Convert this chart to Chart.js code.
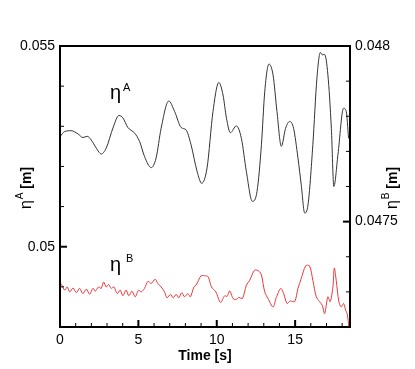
<!DOCTYPE html>
<html>
<head>
<meta charset="utf-8">
<script src="https://cdn.jsdelivr.net/npm/chart.js@4.4.1/dist/chart.umd.min.js"></script>
<style>
  html, body { margin: 0; padding: 0; background: #fff; }
  #wrap { width: 415px; height: 369px; }
</style>
</head>
<body>
<div id="wrap"><canvas id="chart" width="415" height="369"></canvas></div>
<script>
// eta A (left axis), black line
const timeA = [0, 0.30, 0.70, 1.15, 1.46, 1.74, 1.99, 2.31, 2.63, 2.95, 3.38, 3.76, 4.01, 4.33, 4.76,
  5.08, 5.39, 5.82, 6.13, 6.45, 6.94, 7.31, 7.73, 8.04, 8.36, 8.75, 9.04, 9.38, 9.76, 10.13,
  10.40, 10.62, 10.87, 11.25, 11.57, 11.89, 12.27, 12.57, 12.85, 13.06, 13.33, 13.59, 13.84, 14.12, 14.39,
  14.65, 14.90, 15.18, 15.39, 15.61, 15.82, 16.13, 16.39, 16.61, 16.73, 16.88, 17.09, 17.31, 17.47, 17.73,
  18.09, 18.26, 18.41];
const etaA = [0.05274, 0.05287, 0.05289, 0.05281, 0.05272, 0.05275, 0.05266, 0.05246, 0.05231, 0.05246,
  0.05296, 0.05327, 0.05321, 0.05297, 0.05283, 0.05262, 0.05225, 0.05197, 0.05221, 0.05295,
  0.05363, 0.05337, 0.05297, 0.05291, 0.05254, 0.05187, 0.05158, 0.05196, 0.05337, 0.05409,
  0.05378, 0.05320, 0.05284, 0.05301, 0.05270, 0.05187, 0.05113, 0.05138, 0.05254, 0.05386,
  0.05455, 0.05428, 0.05337, 0.05250, 0.05295, 0.05312, 0.05295, 0.05221, 0.05154, 0.05084,
  0.05104, 0.05254, 0.05420, 0.05484, 0.05478, 0.05479, 0.05428, 0.05295, 0.05150, 0.05229,
  0.05345, 0.05337, 0.05270];

// eta B (right axis), red line
const timeB = [0, 0.08, 0.30, 0.46, 0.62, 0.83, 1.04, 1.25, 1.46, 1.68, 1.89, 2.10, 2.25, 2.46, 2.63,
  2.78, 2.95, 3.10, 3.27, 3.44, 3.65, 3.84, 4.01, 4.22, 4.39, 4.59, 4.80, 5.01, 5.18, 5.39,
  5.61, 5.82, 6.07, 6.24, 6.45, 6.67, 6.83, 7.05, 7.22, 7.41, 7.58, 7.77, 7.94, 8.15, 8.32,
  8.54, 8.68, 9.00, 9.22, 9.45, 9.66, 9.94, 10.24, 10.51, 10.66, 10.83, 11.04, 11.21, 11.42, 11.64,
  11.89, 12.10, 12.42, 12.69, 12.85, 13.06, 13.27, 13.59, 13.80, 14.08, 14.27, 14.48, 14.69, 14.97, 15.18,
  15.39, 15.67, 15.92, 16.13, 16.35, 16.56, 16.73, 16.88, 17.09, 17.24, 17.41, 17.50, 17.62, 17.79, 17.94,
  18.09, 18.22, 18.32, 18.43];
const etaB = [0.047317, 0.047322, 0.047305, 0.047314, 0.047300, 0.047311, 0.047298, 0.047310, 0.047295, 0.047308,
  0.047293, 0.047310, 0.047302, 0.047314, 0.047310, 0.047328, 0.047314, 0.047321, 0.047310, 0.047314,
  0.047295, 0.047305, 0.047289, 0.047305, 0.047289, 0.047302, 0.047286, 0.047305, 0.047300, 0.047310,
  0.047330, 0.047324, 0.047336, 0.047324, 0.047314, 0.047300, 0.047283, 0.047293, 0.047283, 0.047293,
  0.047283, 0.047298, 0.047286, 0.047295, 0.047286, 0.047314, 0.047319, 0.047346, 0.047346, 0.047343,
  0.047314, 0.047300, 0.047270, 0.047289, 0.047287, 0.047303, 0.047281, 0.047278, 0.047284, 0.047281,
  0.047319, 0.047333, 0.047362, 0.047359, 0.047348, 0.047300, 0.047281, 0.047257, 0.047284, 0.047310,
  0.047295, 0.047267, 0.047274, 0.047272, 0.047310, 0.047338, 0.047374, 0.047374, 0.047333, 0.047286,
  0.047272, 0.047262, 0.047238, 0.047286, 0.047272, 0.047314, 0.047368, 0.047333, 0.047272, 0.047257,
  0.047267, 0.047248, 0.047238, 0.047200];

const FONT = "'Liberation Sans', Arial, Helvetica, sans-serif";

function isMult(v, step) {
  const r = v / step;
  return Math.abs(r - Math.round(r)) < 1e-6;
}

// draws text pieces one after another (for the superscripts)
function drawParts(ctx, parts, x, y, rot) {
  ctx.save();
  ctx.translate(x, y);
  if (rot) ctx.rotate(rot);
  let total = 0;
  parts.forEach(p => { ctx.font = p.font; total += ctx.measureText(p.text).width + (p.gap || 0); });
  let cx = -total / 2;
  ctx.textBaseline = "alphabetic";
  ctx.textAlign = "left";
  parts.forEach(p => {
    ctx.font = p.font;
    cx += (p.gap || 0);
    ctx.fillText(p.text, cx, p.dy || 0);
    cx += ctx.measureText(p.text).width;
  });
  ctx.restore();
}

const framePlugin = {
  id: "frame",
  afterDraw(chart) {
    const { ctx, chartArea: a, scales } = chart;
    ctx.save();
    ctx.strokeStyle = "#000";
    const line = (x1, y1, x2, y2) => { ctx.beginPath(); ctx.moveTo(x1, y1); ctx.lineTo(x2, y2); ctx.stroke(); };

    scales.x.ticks.forEach(t => {
      const px = scales.x.getPixelForValue(t.value);
      const major = isMult(t.value, 5);
      ctx.lineWidth = major ? 2 : 1;
      line(px, a.bottom, px, a.bottom - (major ? 7 : 4));
    });
    scales.y.ticks.forEach(t => {
      const py = scales.y.getPixelForValue(t.value);
      const major = isMult(t.value, 0.005);
      ctx.lineWidth = major ? 2 : 1;
      line(a.left, py, a.left + (major ? 7 : 4), py);
    });
    scales.y2.ticks.forEach(t => {
      const py = scales.y2.getPixelForValue(t.value);
      const major = isMult(t.value, 0.0005);
      ctx.lineWidth = major ? 2 : 1;
      line(a.right, py, a.right - (major ? 7 : 4), py);
    });

    ctx.lineWidth = 2;
    ctx.strokeRect(a.left, a.top, a.right - a.left, a.bottom - a.top);

    ctx.fillStyle = "#000";
    const midY = 188;
    drawParts(ctx, [
      { text: "\u03B7", font: "16px " + FONT },
      { text: "A", font: "10px " + FONT, dy: -8, gap: 1 },
      { text: " [m]", font: "bold 14px " + FONT }
    ], 31, midY, -Math.PI / 2);
    drawParts(ctx, [
      { text: "\u03B7", font: "16px " + FONT },
      { text: "B", font: "10px " + FONT, dy: -8, gap: 1 },
      { text: " [m]", font: "bold 14px " + FONT }
    ], 397, midY, -Math.PI / 2);
    drawParts(ctx, [{ text: "Time [s]", font: "bold 14px " + FONT }], (a.left + a.right) / 2, 360, 0);

    // curve labels
    const lx = a.left + 50;
    ctx.textAlign = "left";
    ctx.font = "20px " + FONT;
    ctx.fillText("\u03B7", lx, a.top + 53);
    ctx.fillText("\u03B7", lx, a.top + 225);
    const w = ctx.measureText("\u03B7").width;
    ctx.font = "11px " + FONT;
    ctx.fillText("A", lx + w + 2, a.top + 45);
    ctx.fillText("B", lx + w + 5, a.top + 216);
    ctx.restore();
  }
};

const tickFont = { family: FONT, size: 14 };

new Chart(document.getElementById("chart"), {
  type: "line",
  data: {
    datasets: [
      {
        data: timeA.map((t, i) => ({ x: t, y: etaA[i] })),
        yAxisID: "y",
        borderColor: "#333",
        borderWidth: 1,
        pointRadius: 0,
        cubicInterpolationMode: "monotone",
        fill: false
      },
      {
        data: timeB.map((t, i) => ({ x: t, y: etaB[i] })),
        yAxisID: "y2",
        borderColor: "#e8383c",
        borderWidth: 1,
        pointRadius: 0,
        tension: 0.3,
        fill: false
      }
    ]
  },
  options: {
    responsive: false,
    animation: false,
    layout: { padding: { top: 46 } },
    plugins: { legend: { display: false }, tooltip: { enabled: false } },
    scales: {
      x: {
        type: "linear",
        min: 0,
        max: 18.5,
        grid: { display: false, drawTicks: false },
        border: { display: false },
        ticks: {
          stepSize: 1, includeBounds: false, autoSkip: false, maxRotation: 0, padding: 5,
          color: "#000", font: tickFont,
          callback: v => isMult(v, 5) ? String(v) : ""
        },
        afterFit: s => { s.height = 42; }
      },
      y: {
        position: "left",
        min: 0.048,
        max: 0.055,
        grid: { display: false, drawTicks: false },
        border: { display: false },
        ticks: {
          stepSize: 0.001, includeBounds: false, autoSkip: false, padding: 5,
          color: "#000", font: tickFont,
          callback: v => isMult(v, 0.005) ? String(Number(v.toFixed(4))) : ""
        },
        afterFit: s => { s.width = 60; }
      },
      y2: {
        position: "right",
        min: 0.0472,
        max: 0.048,
        grid: { display: false, drawTicks: false },
        border: { display: false },
        ticks: {
          stepSize: 0.0001, includeBounds: false, autoSkip: false, padding: 5,
          color: "#000", font: tickFont,
          callback: v => isMult(v, 0.0005) ? String(Number(v.toFixed(5))) : ""
        },
        afterFit: s => { s.width = 65; }
      }
    }
  },
  plugins: [framePlugin]
});
</script>
</body>
</html>
